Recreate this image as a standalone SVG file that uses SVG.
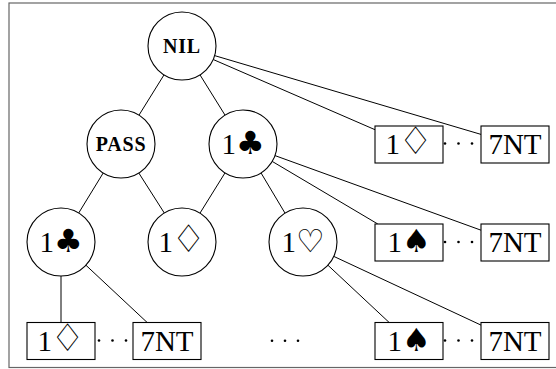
<svg xmlns="http://www.w3.org/2000/svg" width="556" height="369" viewBox="0 0 556 369">
<style>
.frame{fill:none;stroke:#666;stroke-width:1.2}
.c{fill:#fff;stroke:#000;stroke-width:1.1}
.b{fill:#fff;stroke:#000;stroke-width:1.1}
.e{stroke:#000;stroke-width:1;fill:none}
.t{font-family:'Liberation Serif','Times New Roman',serif;font-size:29px;text-anchor:middle;fill:#000}
.s{font-family:'DejaVu Sans',sans-serif;font-size:32px}
.d{font-family:'DejaVu Sans',sans-serif;font-size:38px}
.sc{font-family:'Liberation Serif','Times New Roman',serif;font-size:20px;font-weight:bold;text-anchor:middle;fill:#000;letter-spacing:0.8px}
.dot{fill:#000}
</style>
<rect class="frame" x="9" y="3" width="560" height="364.5"/>
<g id="connectors">
<line class="e" x1="164.0" y1="74.9" x2="139.0" y2="115.1"/>
<line class="e" x1="200.0" y1="74.9" x2="225.0" y2="115.1"/>
<line class="e" x1="213.2" y1="59.5" x2="375" y2="129.7"/>
<line class="e" x1="214.6" y1="55.6" x2="481" y2="134.4"/>
<line class="e" x1="103.2" y1="173.0" x2="78.7" y2="213.0"/>
<line class="e" x1="138.8" y1="173.0" x2="164.3" y2="213.0"/>
<line class="e" x1="225.0" y1="172.9" x2="200.0" y2="213.1"/>
<line class="e" x1="261.0" y1="172.9" x2="285.0" y2="213.1"/>
<line class="e" x1="272.2" y1="161.4" x2="377.8" y2="224"/>
<line class="e" x1="275.0" y1="155.6" x2="481" y2="230.2"/>
<line class="e" x1="327.9" y1="265.2" x2="389.2" y2="322.5"/>
<line class="e" x1="333.8" y1="256.4" x2="481" y2="325.1"/>
<line class="e" x1="61" y1="276" x2="61" y2="322.5"/>
<line class="e" x1="85.9" y1="265.2" x2="147.2" y2="322.5"/>
</g>
<g id="nil"><circle class="c" cx="182" cy="46" r="34"/><text class="sc" x="182" y="53.3">NIL</text></g>
<g id="pass"><circle class="c" cx="121" cy="144" r="34"/><text class="sc" x="121" y="150.7">PASS</text></g>
<g id="c1"><circle class="c" cx="243" cy="144" r="34"/><text class="t" x="243" y="154">1<tspan class="s">♣</tspan></text></g>
<g id="b1"><circle class="c" cx="61" cy="242" r="34"/><text class="t" x="61" y="252">1<tspan class="s">♣</tspan></text></g>
<g id="b2"><circle class="c" cx="182" cy="242" r="34"/><text class="t" x="182" y="252">1<tspan class="d" dx="-1.5">♢</tspan></text></g>
<g id="b3"><circle class="c" cx="303" cy="242" r="34"/><text class="t" x="303" y="252">1<tspan class="s">♡</tspan></text></g>
<g id="t1"><rect class="b" x="375" y="126" width="68" height="37"/><text class="t" x="409" y="154">1<tspan class="d" dx="-1.5">♢</tspan></text></g>
<g id="t2"><rect class="b" x="481" y="126" width="68" height="37"/><text class="t" x="515" y="154">7NT</text></g>
<g id="r2a"><rect class="b" x="375" y="224" width="68" height="37"/><text class="t" x="409" y="252">1<tspan class="s">♠</tspan></text></g>
<g id="r2b"><rect class="b" x="481" y="224" width="68" height="37"/><text class="t" x="515" y="252">7NT</text></g>
<g id="r3a"><rect class="b" x="375" y="322.5" width="68" height="37"/><text class="t" x="409" y="350.5">1<tspan class="s">♠</tspan></text></g>
<g id="r3b"><rect class="b" x="481" y="322.5" width="68" height="37"/><text class="t" x="515" y="350.5">7NT</text></g>
<g id="l1"><rect class="b" x="27" y="322.5" width="68" height="37"/><text class="t" x="61" y="350.5">1<tspan class="d" dx="-1.5">♢</tspan></text></g>
<g id="l2"><rect class="b" x="133" y="322.5" width="68" height="37"/><text class="t" x="167" y="350.5">7NT</text></g>
<g id="dots">
<circle class="dot" cx="445" cy="143.5" r="1.3"/><circle class="dot" cx="458.5" cy="143.5" r="1.3"/><circle class="dot" cx="472" cy="143.5" r="1.3"/>
<circle class="dot" cx="445" cy="242" r="1.3"/><circle class="dot" cx="458.5" cy="242" r="1.3"/><circle class="dot" cx="472" cy="242" r="1.3"/>
<circle class="dot" cx="445" cy="340.5" r="1.3"/><circle class="dot" cx="458.5" cy="340.5" r="1.3"/><circle class="dot" cx="472" cy="340.5" r="1.3"/>
<circle class="dot" cx="99" cy="340.5" r="1.3"/><circle class="dot" cx="112.5" cy="340.5" r="1.3"/><circle class="dot" cx="126" cy="340.5" r="1.3"/>
<circle class="dot" cx="272" cy="340.7" r="1.3"/><circle class="dot" cx="285" cy="340.7" r="1.3"/><circle class="dot" cx="298" cy="340.7" r="1.3"/>
</g>
</svg>
